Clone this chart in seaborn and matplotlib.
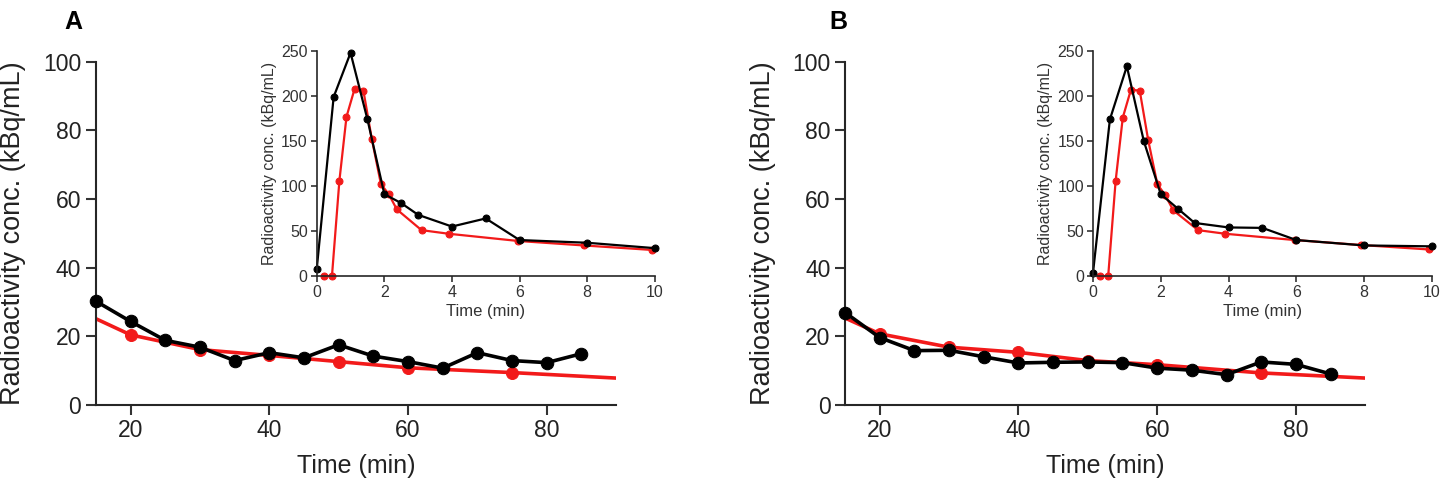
import matplotlib
matplotlib.use("Agg")
import matplotlib.pyplot as plt
import seaborn as sns

# main panels: late phase (15-90 min)
t_main = [15, 20, 25, 30, 35, 40, 45, 50, 55, 60, 65, 70, 75, 80, 85]
black_main_a = [30.2, 24.3, 18.8, 16.8, 12.9, 15.2, 13.7, 17.5, 14.2, 12.6, 10.7, 15.2, 12.9, 12.3, 14.9]
black_main_b = [26.9, 19.6, 15.8, 15.9, 14.0, 12.2, 12.4, 12.5, 12.3, 10.7, 10.1, 8.8, 12.5, 11.8, 9.0]

# red curve (line from 15 to 90, markers only on measured times)
t_red_line = [15, 20, 30, 40, 50, 60, 75, 90]
red_main_a = [25.1, 20.4, 16.1, 14.4, 12.6, 10.8, 9.4, 7.8]
red_main_b = [25.3, 20.7, 16.8, 15.3, 12.9, 11.7, 9.3, 7.8]

# insets: early phase (0-10 min)
t_in_black = [0, 0.5, 1, 1.5, 2, 2.5, 3, 4, 5, 6, 8, 10]
black_in_a = [8, 199, 248, 174, 91, 81, 68, 55, 64, 40, 37, 31]
black_in_b = [3, 174, 233, 150, 91, 75, 59, 54, 53.5, 40, 34, 33]

t_in_red = [0.2, 0.45, 0.67, 0.88, 1.12, 1.38, 1.63, 1.9, 2.13, 2.37, 3.1, 3.9, 5.95, 7.9, 9.92]
red_in_a = [0, 0, 106, 177, 208, 206, 152, 102, 91, 74, 51, 47, 39, 34, 29]
red_in_b = [0, 0, 106, 176, 207, 206, 151, 102, 90, 73, 51, 47, 40, 34.5, 29.5]

RED = "#f21a1a"
TXT = "#222222"
ylab = "Radioactivity conc. (kBq/mL)"

sns.set_style("ticks")
plt.rcParams["font.family"] = ["Liberation Sans", "DejaVu Sans"]
plt.rcParams["axes.linewidth"] = 1.5
plt.rcParams["xtick.major.width"] = 1.5
plt.rcParams["ytick.major.width"] = 1.5
plt.rcParams["text.color"] = TXT
plt.rcParams["axes.labelcolor"] = TXT
plt.rcParams["xtick.labelcolor"] = TXT
plt.rcParams["ytick.labelcolor"] = TXT


def main_panel(ax, black, red):
    sns.lineplot(x=t_red_line, y=red, color=RED, lw=2.6, ax=ax)
    sns.scatterplot(x=t_red_line[1:-1], y=red[1:-1], color=RED, s=75,
                    edgecolor=RED, ax=ax, zorder=3)
    sns.lineplot(x=t_main, y=black, color="black", lw=2.6, marker="o",
                 markersize=9, markeredgecolor="black", ax=ax, zorder=4,
                 clip_on=False)
    ax.set_xlim(15, 90)
    ax.set_ylim(0, 100)
    ax.set_xticks([20, 40, 60, 80])
    ax.set_yticks([0, 20, 40, 60, 80, 100])
    ax.tick_params(labelsize=16.5, length=7, color="#333333")
    ax.set_xlabel("Time (min)", fontsize=18, labelpad=8)
    ax.set_ylabel(ylab, fontsize=19.5, labelpad=12)
    sns.despine(ax=ax)


def inset_panel(ax, black, red):
    sns.lineplot(x=t_in_red, y=red, color=RED, lw=1.6, marker="o",
                 markersize=5, markeredgecolor=RED, ax=ax, clip_on=False)
    sns.lineplot(x=t_in_black, y=black, color="black", lw=1.6, marker="o",
                 markersize=5, markeredgecolor="black", ax=ax, clip_on=False)
    ax.set_xlim(0, 10)
    ax.set_ylim(0, 250)
    ax.set_xticks([0, 2, 4, 6, 8, 10])
    ax.set_yticks([0, 50, 100, 150, 200, 250])
    ax.tick_params(labelsize=11.5, length=4, width=1.2, color="#333333",
                   pad=2.5, labelcolor="#333333")
    for sp in ax.spines.values():
        sp.set_linewidth(1.2)
    ax.set_xlabel("Time (min)", fontsize=12, labelpad=3, color="#333333")
    ax.set_ylabel(ylab, fontsize=11.5, labelpad=3, color="#333333")
    sns.despine(ax=ax)


fig = plt.figure(figsize=(14.53, 4.86), dpi=100)

ax_a = fig.add_axes([0.066, 0.167, 0.358, 0.706])
main_panel(ax_a, black_main_a, red_main_a)
ins_a = fig.add_axes([0.218, 0.432, 0.2326, 0.463])
inset_panel(ins_a, black_in_a, red_in_a)

ax_b = fig.add_axes([0.5816, 0.167, 0.358, 0.706])
main_panel(ax_b, black_main_b, red_main_b)
ins_b = fig.add_axes([0.7522, 0.432, 0.2333, 0.463])
inset_panel(ins_b, black_in_b, red_in_b)

fig.text(0.044, 0.955, "A", fontsize=18, fontweight="bold", va="center",
         color="black")
fig.text(0.571, 0.955, "B", fontsize=18, fontweight="bold", va="center",
         color="black")

fig.savefig("out.png", dpi=100)
